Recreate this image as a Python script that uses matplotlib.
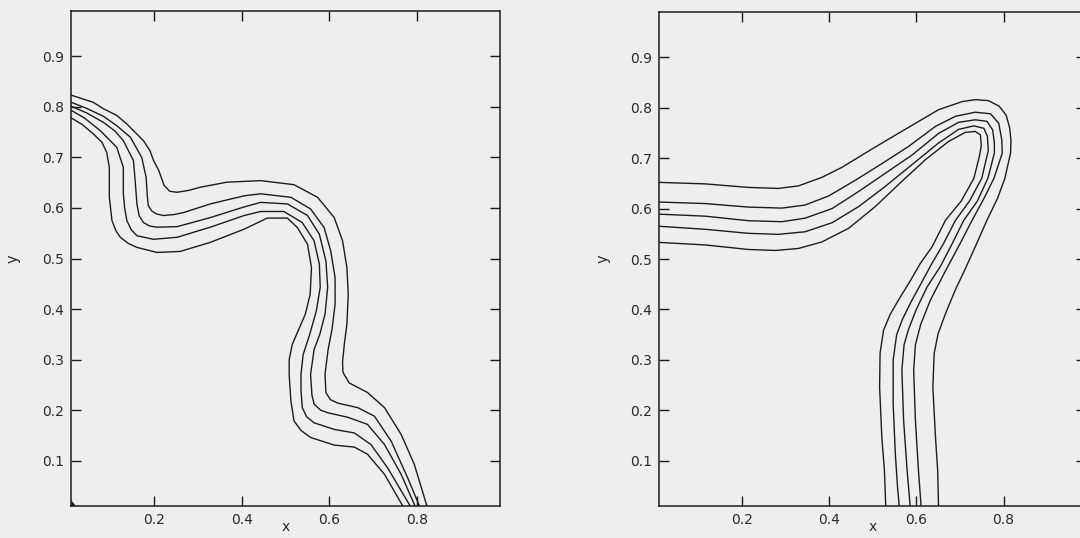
import matplotlib
matplotlib.use("Agg")
import matplotlib.pyplot as plt

# left panel: five level curves, outer (a) to inner (e)
left_a_x = [0.010, 0.060, 0.084, 0.114, 0.137, 0.160, 0.175, 0.190, 0.198, 0.210, 0.222, 0.235, 0.252, 0.280, 0.305, 0.366, 0.443, 0.519, 0.573, 0.611, 0.630, 0.640, 0.643, 0.640, 0.634, 0.630, 0.631, 0.645, 0.687, 0.726, 0.764, 0.794, 0.823]
left_a_y = [0.823, 0.809, 0.796, 0.783, 0.766, 0.746, 0.733, 0.713, 0.694, 0.674, 0.645, 0.633, 0.631, 0.635, 0.641, 0.651, 0.654, 0.646, 0.621, 0.581, 0.535, 0.482, 0.429, 0.370, 0.330, 0.295, 0.275, 0.254, 0.235, 0.205, 0.152, 0.093, 0.010]
left_b_x = [0.010, 0.045, 0.084, 0.115, 0.145, 0.171, 0.181, 0.184, 0.186, 0.194, 0.205, 0.221, 0.245, 0.267, 0.328, 0.405, 0.443, 0.512, 0.557, 0.588, 0.603, 0.613, 0.613, 0.606, 0.597, 0.590, 0.592, 0.602, 0.619, 0.665, 0.703, 0.741, 0.779, 0.806]
left_b_y = [0.809, 0.797, 0.781, 0.762, 0.740, 0.700, 0.661, 0.621, 0.605, 0.594, 0.588, 0.585, 0.587, 0.591, 0.608, 0.624, 0.628, 0.621, 0.598, 0.561, 0.515, 0.462, 0.410, 0.360, 0.320, 0.271, 0.235, 0.221, 0.214, 0.205, 0.188, 0.139, 0.066, 0.010]
left_c_x = [0.010, 0.045, 0.084, 0.110, 0.129, 0.152, 0.156, 0.160, 0.165, 0.175, 0.190, 0.206, 0.252, 0.328, 0.405, 0.443, 0.504, 0.550, 0.577, 0.592, 0.596, 0.590, 0.578, 0.565, 0.557, 0.560, 0.565, 0.580, 0.596, 0.642, 0.687, 0.726, 0.764, 0.796]
left_c_y = [0.801, 0.788, 0.769, 0.752, 0.733, 0.694, 0.654, 0.608, 0.585, 0.571, 0.564, 0.562, 0.563, 0.581, 0.602, 0.611, 0.608, 0.585, 0.548, 0.495, 0.443, 0.390, 0.350, 0.320, 0.271, 0.230, 0.212, 0.200, 0.195, 0.186, 0.172, 0.132, 0.073, 0.010]
left_d_x = [0.010, 0.040, 0.076, 0.114, 0.129, 0.129, 0.132, 0.137, 0.147, 0.160, 0.198, 0.252, 0.328, 0.405, 0.443, 0.496, 0.538, 0.565, 0.577, 0.579, 0.570, 0.555, 0.540, 0.535, 0.535, 0.538, 0.548, 0.565, 0.611, 0.657, 0.695, 0.733, 0.785]
left_d_y = [0.793, 0.778, 0.753, 0.720, 0.680, 0.628, 0.600, 0.575, 0.557, 0.545, 0.538, 0.542, 0.562, 0.585, 0.593, 0.593, 0.571, 0.535, 0.489, 0.443, 0.396, 0.350, 0.310, 0.271, 0.240, 0.205, 0.187, 0.175, 0.162, 0.155, 0.132, 0.086, 0.010]
left_e_x = [0.010, 0.035, 0.061, 0.080, 0.091, 0.097, 0.097, 0.097, 0.103, 0.112, 0.122, 0.140, 0.160, 0.206, 0.259, 0.328, 0.405, 0.458, 0.504, 0.527, 0.550, 0.559, 0.556, 0.545, 0.530, 0.515, 0.508, 0.508, 0.512, 0.519, 0.535, 0.557, 0.611, 0.657, 0.687, 0.726, 0.768]
left_e_y = [0.778, 0.765, 0.746, 0.730, 0.710, 0.680, 0.640, 0.621, 0.575, 0.555, 0.542, 0.530, 0.522, 0.512, 0.514, 0.532, 0.558, 0.580, 0.580, 0.561, 0.528, 0.482, 0.429, 0.390, 0.360, 0.330, 0.300, 0.271, 0.218, 0.179, 0.160, 0.146, 0.131, 0.127, 0.113, 0.073, 0.010]

# small filled blob in the lower left corner of the left panel
corner_x = [0.010, 0.021, 0.010]
corner_y = [0.010, 0.010, 0.022]

# right panel
right_a_x = [0.010, 0.116, 0.215, 0.284, 0.330, 0.384, 0.430, 0.483, 0.537, 0.598, 0.651, 0.705, 0.735, 0.765, 0.790, 0.806, 0.814, 0.817, 0.816, 0.803, 0.786, 0.762, 0.738, 0.712, 0.690, 0.667, 0.650, 0.641, 0.638, 0.644, 0.649, 0.651]
right_a_y = [0.652, 0.649, 0.642, 0.640, 0.645, 0.662, 0.682, 0.710, 0.738, 0.769, 0.796, 0.812, 0.816, 0.814, 0.803, 0.785, 0.760, 0.735, 0.710, 0.660, 0.620, 0.577, 0.530, 0.480, 0.440, 0.392, 0.352, 0.313, 0.246, 0.147, 0.081, 0.010]
right_b_x = [0.010, 0.116, 0.215, 0.292, 0.345, 0.399, 0.460, 0.521, 0.582, 0.644, 0.690, 0.735, 0.770, 0.789, 0.796, 0.797, 0.778, 0.755, 0.728, 0.700, 0.666, 0.632, 0.610, 0.598, 0.594, 0.598, 0.605, 0.611]
right_b_y = [0.613, 0.610, 0.603, 0.601, 0.607, 0.625, 0.656, 0.689, 0.723, 0.763, 0.783, 0.791, 0.788, 0.769, 0.736, 0.710, 0.660, 0.620, 0.577, 0.530, 0.475, 0.418, 0.370, 0.330, 0.280, 0.180, 0.081, 0.010]
right_c_x = [0.010, 0.116, 0.215, 0.292, 0.345, 0.407, 0.468, 0.529, 0.590, 0.651, 0.697, 0.735, 0.762, 0.775, 0.779, 0.779, 0.764, 0.740, 0.709, 0.682, 0.655, 0.625, 0.600, 0.582, 0.572, 0.567, 0.571, 0.579, 0.586]
right_c_y = [0.589, 0.585, 0.576, 0.574, 0.581, 0.600, 0.634, 0.670, 0.706, 0.749, 0.771, 0.776, 0.773, 0.756, 0.730, 0.710, 0.660, 0.615, 0.577, 0.530, 0.485, 0.445, 0.400, 0.360, 0.330, 0.280, 0.180, 0.081, 0.010]
right_d_x = [0.010, 0.116, 0.215, 0.284, 0.345, 0.407, 0.468, 0.529, 0.590, 0.651, 0.697, 0.732, 0.755, 0.763, 0.765, 0.750, 0.722, 0.690, 0.662, 0.635, 0.610, 0.588, 0.568, 0.555, 0.547, 0.547, 0.552, 0.557, 0.561]
right_d_y = [0.565, 0.559, 0.551, 0.549, 0.554, 0.572, 0.604, 0.644, 0.687, 0.730, 0.757, 0.764, 0.759, 0.743, 0.715, 0.660, 0.615, 0.577, 0.530, 0.490, 0.450, 0.415, 0.380, 0.350, 0.300, 0.213, 0.114, 0.048, 0.010]
right_e_x = [0.010, 0.116, 0.215, 0.277, 0.330, 0.384, 0.445, 0.506, 0.567, 0.621, 0.674, 0.712, 0.735, 0.747, 0.749, 0.745, 0.732, 0.703, 0.667, 0.636, 0.609, 0.585, 0.560, 0.540, 0.525, 0.517, 0.516, 0.521, 0.527, 0.530]
right_e_y = [0.533, 0.528, 0.519, 0.517, 0.521, 0.534, 0.561, 0.604, 0.654, 0.697, 0.733, 0.751, 0.753, 0.746, 0.725, 0.705, 0.660, 0.615, 0.577, 0.524, 0.491, 0.455, 0.420, 0.390, 0.359, 0.313, 0.246, 0.147, 0.081, 0.010]

x_ticks = [0.2, 0.4, 0.6, 0.8]
y_ticks = [0.1, 0.2, 0.3, 0.4, 0.5, 0.6, 0.7, 0.8, 0.9]
x_labels = ["0.2", "0.4", "0.6", "0.8"]
y_labels = ["0.1", "0.2", "0.3", "0.4", "0.5", "0.6", "0.7", "0.8", "0.9"]

bg = "#eeeeec"
ink = "#1c1c1c"
plt.rcParams["font.family"] = ["DejaVu Sans"]

fig = plt.figure(figsize=(10.8, 5.38), dpi=100, facecolor=bg)

# axes boxes in figure fractions
ax1 = fig.add_axes([0.066, 0.059, 0.397, 0.921])
ax2 = fig.add_axes([0.610, 0.059, 0.396, 0.919])

left_curves = [(left_a_x, left_a_y), (left_b_x, left_b_y), (left_c_x, left_c_y),
               (left_d_x, left_d_y), (left_e_x, left_e_y)]
right_curves = [(right_a_x, right_a_y), (right_b_x, right_b_y), (right_c_x, right_c_y),
                (right_d_x, right_d_y), (right_e_x, right_e_y)]

for ax, curves in ((ax1, left_curves), (ax2, right_curves)):
    ax.set_facecolor(bg)
    for cx, cy in curves:
        ax.plot(cx, cy, color=ink, lw=1.0, solid_joinstyle="round")
    ax.set_xlim(0.01, 0.99)
    ax.set_ylim(0.01, 0.99)
    ax.set_xticks(x_ticks)
    ax.set_xticklabels(x_labels)
    ax.set_yticks(y_ticks)
    ax.set_yticklabels(y_labels)
    ax.tick_params(direction="in", length=7, width=1.0, color=ink,
                   top=True, right=True, labelsize=10, labelcolor="#2a2a2a")
    ax.tick_params(axis="x", pad=5)
    ax.tick_params(axis="y", pad=5)
    for sp in ax.spines.values():
        sp.set_linewidth(1.1)
        sp.set_color(ink)
    ax.set_xlabel("x", fontsize=10, color="#2a2a2a")
    ax.set_ylabel("y", fontsize=10.5, color="#2a2a2a")
    # the scan clips the x label at the page edge; keep it just inside
    ax.xaxis.set_label_coords(0.5, -0.027)

ax1.fill(corner_x, corner_y, color=ink, lw=0)
ax1.yaxis.set_label_coords(-0.118, 0.5)
ax2.yaxis.set_label_coords(-0.112, 0.5)

fig.savefig("out.png", dpi=100, facecolor=bg)
